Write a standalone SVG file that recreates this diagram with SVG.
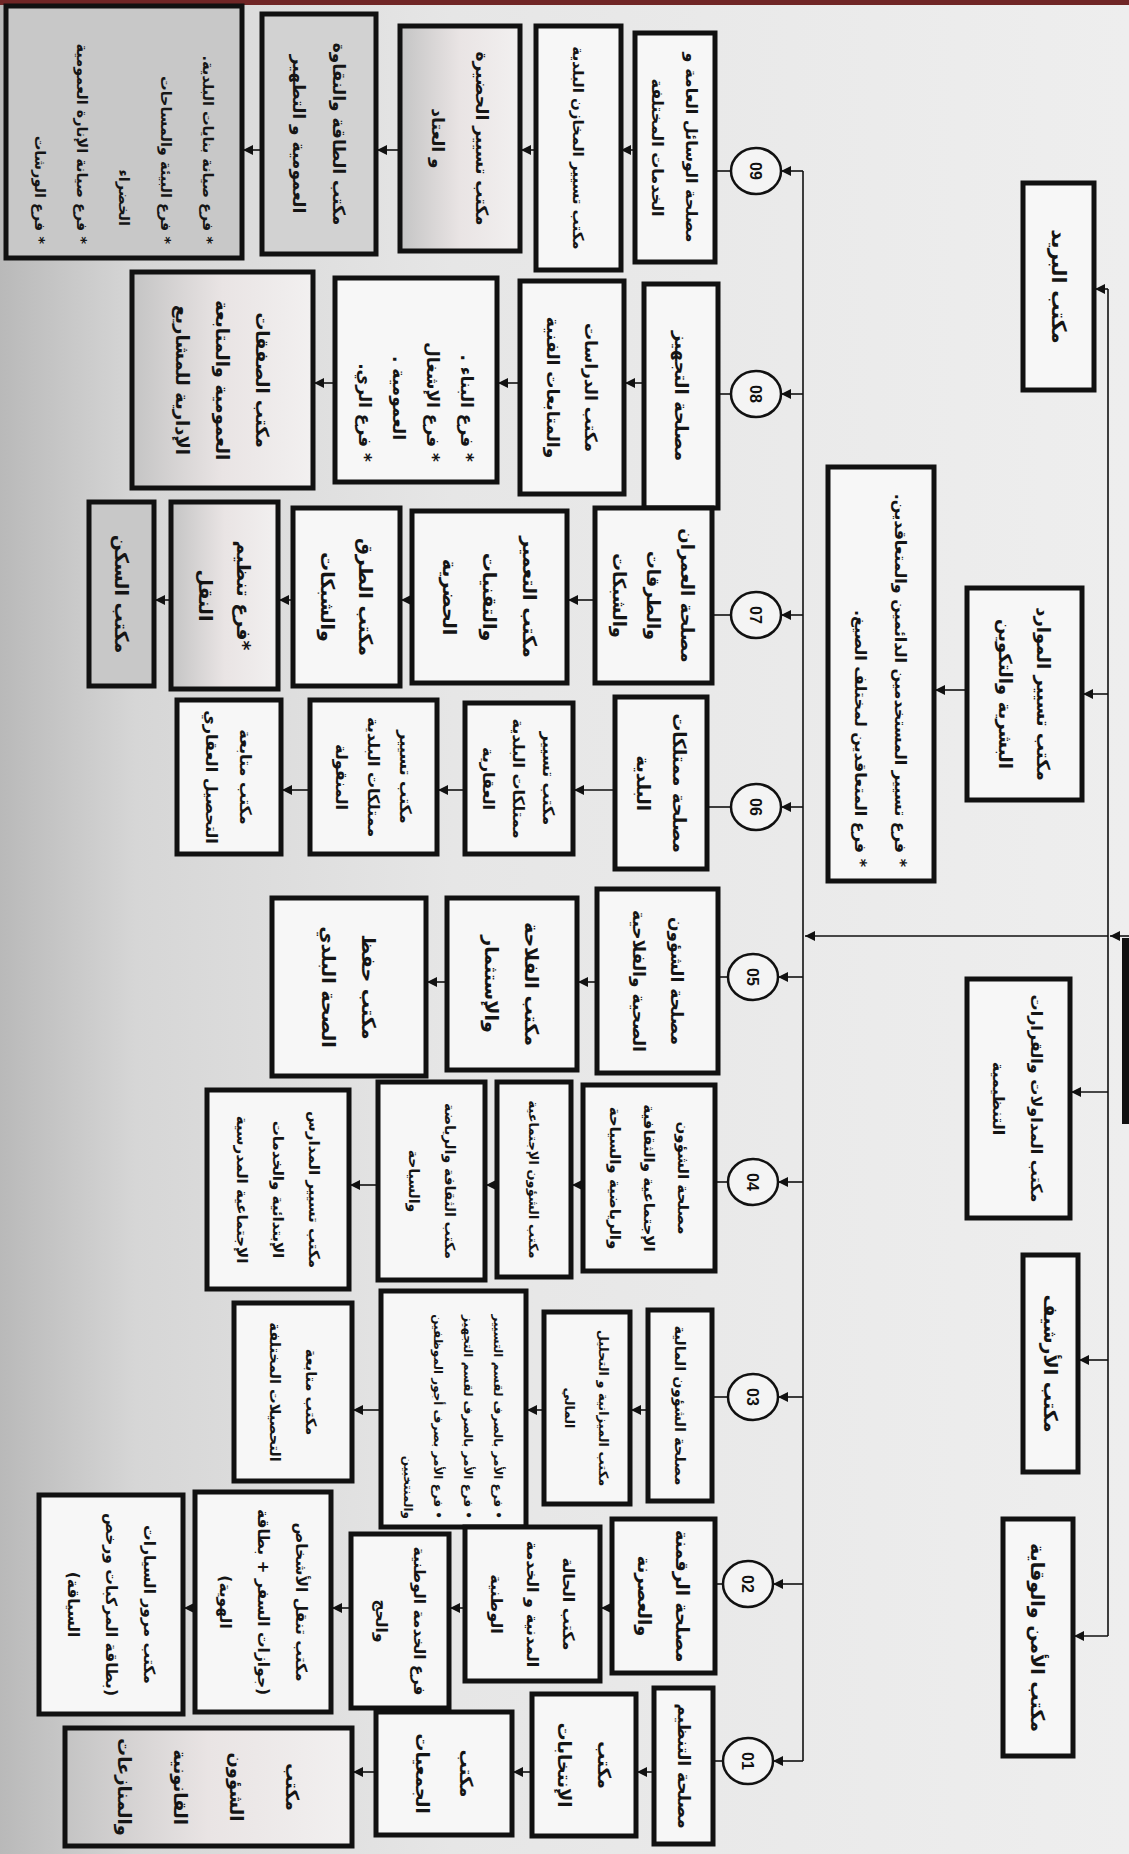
<svg xmlns="http://www.w3.org/2000/svg" width="1129" height="1854" viewBox="0 0 1129 1854">
<defs>
<linearGradient id="bg" x1="0" y1="0" x2="1" y2="0">
<stop offset="0" stop-color="#b9b9b9"/>
<stop offset="0.12" stop-color="#d6d6d6"/>
<stop offset="0.4" stop-color="#e6e6e6"/>
<stop offset="1" stop-color="#eeeeee"/>
</linearGradient>
<linearGradient id="gl" x1="0" y1="0" x2="1" y2="0">
<stop offset="0" stop-color="#c4c4c4"/>
<stop offset="0.5" stop-color="#e9e4e4"/>
<stop offset="1" stop-color="#f2f0f0"/>
</linearGradient>
<marker id="ah" viewBox="0 0 10 10" refX="10" refY="5" markerWidth="10" markerHeight="10" markerUnits="userSpaceOnUse" orient="auto">
<path d="M0,0 L10,5 L0,10 z" fill="#111"/>
</marker>
<style>
.b{fill:#f7f7f7;stroke:#111;stroke-width:5}
.g1{fill:#c8c8c8}
.g2{fill:#d2d2d2}
.g3{fill:url(#gl)}
.t{font-family:"DejaVu Sans",sans-serif;font-weight:bold;fill:#151515;direction:rtl;text-anchor:middle}
.s{text-anchor:start}
.c{fill:#f4f4f4;stroke:#111;stroke-width:2.5}
.n{font-family:"Liberation Sans",sans-serif;font-weight:bold;font-size:16px;fill:#111;text-anchor:middle}
.l{fill:none;stroke:#111;stroke-width:1.6}
.a{fill:none;stroke:#111;stroke-width:1.6;marker-end:url(#ah)}
</style>
</defs>
<rect x="0" y="0" width="1129" height="1854" fill="url(#bg)"/>
<rect x="0" y="0" width="1129" height="5" fill="#702626"/>
<rect x="1122" y="938" width="7" height="186" fill="#111"/>

<g id="connectors">
<line class="l" x1="803" y1="171" x2="803" y2="1761"/>
<line class="a" x1="1129" y1="936" x2="1110" y2="936"/>
<line class="a" x1="1108" y1="936" x2="805" y2="936"/>
<line class="l" x1="1108" y1="289" x2="1108" y2="1636"/>
<line class="a" x1="1108" y1="289" x2="1095" y2="289"/>
<line class="a" x1="1108" y1="694" x2="1083" y2="694"/>
<line class="a" x1="967" y1="690" x2="935" y2="690"/>
<line class="a" x1="1108" y1="1092" x2="1071" y2="1092"/>
<line class="a" x1="1108" y1="1360" x2="1079" y2="1360"/>
<line class="a" x1="1108" y1="1636" x2="1074" y2="1636"/>
<line class="a" x1="803" y1="171" x2="781" y2="171"/>
<line class="a" x1="803" y1="394" x2="781" y2="394"/>
<line class="a" x1="803" y1="615" x2="781" y2="615"/>
<line class="a" x1="803" y1="807" x2="781" y2="807"/>
<line class="a" x1="803" y1="977" x2="778" y2="977"/>
<line class="a" x1="803" y1="1182" x2="778" y2="1182"/>
<line class="a" x1="803" y1="1397" x2="778" y2="1397"/>
<line class="a" x1="803" y1="1584" x2="773" y2="1584"/>
<line class="a" x1="803" y1="1761" x2="773" y2="1761"/>
<line class="l" x1="731" y1="171" x2="715" y2="171"/>
<line class="l" x1="731" y1="394" x2="718" y2="394"/>
<line class="l" x1="731" y1="615" x2="712" y2="615"/>
<line class="l" x1="731" y1="807" x2="707" y2="807"/>
<line class="l" x1="728" y1="977" x2="718" y2="977"/>
<line class="l" x1="728" y1="1182" x2="715" y2="1182"/>
<line class="l" x1="728" y1="1397" x2="712" y2="1397"/>
<line class="l" x1="723" y1="1584" x2="715" y2="1584"/>
<line class="l" x1="723" y1="1761" x2="713" y2="1761"/>
<line class="a" x1="635" y1="150" x2="621" y2="150"/>
<line class="a" x1="536" y1="150" x2="521" y2="150"/>
<line class="a" x1="400" y1="150" x2="377" y2="150"/>
<line class="a" x1="262" y1="150" x2="243" y2="150"/>
<line class="a" x1="644" y1="383" x2="625" y2="383"/>
<line class="a" x1="520" y1="383" x2="498" y2="383"/>
<line class="a" x1="335" y1="383" x2="314" y2="383"/>
<line class="a" x1="595" y1="600" x2="568" y2="600"/>
<line class="a" x1="412" y1="600" x2="401" y2="600"/>
<line class="a" x1="293" y1="600" x2="279" y2="600"/>
<line class="a" x1="171" y1="600" x2="155" y2="600"/>
<line class="a" x1="615" y1="790" x2="574" y2="790"/>
<line class="a" x1="465" y1="790" x2="438" y2="790"/>
<line class="a" x1="310" y1="790" x2="282" y2="790"/>
<line class="a" x1="597" y1="982" x2="578" y2="982"/>
<line class="a" x1="447" y1="982" x2="427" y2="982"/>
<line class="a" x1="583" y1="1185" x2="572" y2="1185"/>
<line class="a" x1="497" y1="1185" x2="486" y2="1185"/>
<line class="a" x1="378" y1="1185" x2="350" y2="1185"/>
<line class="a" x1="648" y1="1410" x2="631" y2="1410"/>
<line class="a" x1="544" y1="1410" x2="527" y2="1410"/>
<line class="a" x1="381" y1="1410" x2="353" y2="1410"/>
<line class="a" x1="612" y1="1608" x2="601" y2="1608"/>
<line class="a" x1="465" y1="1608" x2="450" y2="1608"/>
<line class="a" x1="351" y1="1608" x2="332" y2="1608"/>
<line class="a" x1="195" y1="1608" x2="184" y2="1608"/>
<line class="a" x1="654" y1="1772" x2="637" y2="1772"/>
<line class="a" x1="532" y1="1772" x2="513" y2="1772"/>
<line class="a" x1="376" y1="1772" x2="353" y2="1772"/>
</g>

<g id="circles">
<g id="c09"><ellipse class="c" cx="756" cy="171" rx="25" ry="23"/><text class="n" transform="translate(756,171) rotate(90)" y="6">09</text></g>
<g id="c08"><ellipse class="c" cx="756" cy="394" rx="25" ry="23"/><text class="n" transform="translate(756,394) rotate(90)" y="6">08</text></g>
<g id="c07"><ellipse class="c" cx="756" cy="615" rx="25" ry="23"/><text class="n" transform="translate(756,615) rotate(90)" y="6">07</text></g>
<g id="c06"><ellipse class="c" cx="756" cy="807" rx="25" ry="23"/><text class="n" transform="translate(756,807) rotate(90)" y="6">06</text></g>
<g id="c05"><ellipse class="c" cx="753" cy="977" rx="25" ry="23"/><text class="n" transform="translate(753,977) rotate(90)" y="6">05</text></g>
<g id="c04"><ellipse class="c" cx="753" cy="1182" rx="25" ry="23"/><text class="n" transform="translate(753,1182) rotate(90)" y="6">04</text></g>
<g id="c03"><ellipse class="c" cx="753" cy="1397" rx="25" ry="23"/><text class="n" transform="translate(753,1397) rotate(90)" y="6">03</text></g>
<g id="c02"><ellipse class="c" cx="748" cy="1584" rx="25" ry="23"/><text class="n" transform="translate(748,1584) rotate(90)" y="6">02</text></g>
<g id="c01"><ellipse class="c" cx="748" cy="1761" rx="25" ry="23"/><text class="n" transform="translate(748,1761) rotate(90)" y="6">01</text></g>
</g>

<g id="staff">
<g id="r1"><rect class="b" x="1023" y="183" width="71" height="207"/><text class="t" style="font-size:20px" transform="translate(1058.5,286.5) rotate(90)"><tspan x="0" y="7">مكتب البريد</tspan></text></g>
<g id="r2"><rect class="b" x="967" y="588" width="115" height="212"/><text class="t" style="font-size:18px" transform="translate(1024.5,694) rotate(90)"><tspan x="0" y="-12.7">مكتب تسيير الموارد</tspan><tspan x="0" y="25.3">البشرية والتكوين</tspan></text></g>
<g id="r3"><rect class="b" x="828" y="467" width="106" height="414"/><text class="t s" style="font-size:16px" transform="translate(881,674) rotate(90)"><tspan x="193" y="-14.4">* فرع تسيير المستخدمين الدائمين والمتعاقدين.</tspan><tspan x="193" y="25.6">* فرع المتعاقدين لمختلف الصيغ.</tspan></text></g>
<g id="r4"><rect class="b" x="967" y="979" width="103" height="239"/><text class="t" style="font-size:16px" transform="translate(1018.5,1098.5) rotate(90)"><tspan x="0" y="-12.4">مكتب المداولات والقرارات</tspan><tspan x="0" y="25.6">التنظيمية</tspan></text></g>
<g id="r5"><rect class="b" x="1023" y="1255" width="55" height="217"/><text class="t" style="font-size:19px" transform="translate(1050.5,1363.5) rotate(90)"><tspan x="0" y="6.6">مكتب الأرشيف</tspan></text></g>
<g id="r6"><rect class="b" x="1003" y="1519" width="70" height="237"/><text class="t" style="font-size:19px" transform="translate(1038,1637.5) rotate(90)"><tspan x="0" y="6.6">مكتب الأمن والوقاية</tspan></text></g>
</g>

<g id="col09">
<g id="n09a"><rect class="b" x="635" y="33" width="80" height="229"/><text class="t" style="font-size:16px" transform="translate(675,147.5) rotate(90)"><tspan x="0" y="-11.4">مصلحة الوسائل العامة و</tspan><tspan x="0" y="22.6">الخدمات المختلفة</tspan></text></g>
<g id="n09b"><rect class="b" x="536" y="26" width="85" height="244"/><text class="t" style="font-size:15px" transform="translate(578.5,148) rotate(90)"><tspan x="0" y="5.3">مكتب تسيير المخازن البلدية</tspan></text></g>
<g id="n09c"><rect class="b g3" x="400" y="26" width="120" height="225"/><text class="t" style="font-size:17px" transform="translate(460,138.5) rotate(90)"><tspan x="0" y="-16">مكتب تسيير الحضيرة</tspan><tspan x="0" y="28">و العتاد</tspan></text></g>
<g id="n09d"><rect class="b g2" x="262" y="14" width="114" height="240"/><text class="t" style="font-size:17px" transform="translate(319,134) rotate(90)"><tspan x="0" y="-14">مكتب الطاقة والنقاوة</tspan><tspan x="0" y="26">العمومية و التطهير</tspan></text></g>
<g id="n09e"><rect class="b g1" x="6" y="6" width="236" height="252"/><text class="t s" style="font-size:14.5px" transform="translate(124,132) rotate(90)"><tspan x="112" y="-79">* فرع صيانة بنايات البلدية.</tspan><tspan x="112" y="-37">* فرع البيئة والمساحات</tspan><tspan x="94" y="5">الخضراء</tspan><tspan x="112" y="47">* فرع صيانة الإنارة العمومية</tspan><tspan x="112" y="89">* فرع الورشات</tspan></text></g>
</g>

<g id="col08">
<g id="n08a"><rect class="b" x="644" y="284" width="74" height="224"/><text class="t" style="font-size:18px" transform="translate(681,396) rotate(90)"><tspan x="0" y="6.3">مصلحة التجهيز</tspan></text></g>
<g id="n08b"><rect class="b" x="520" y="281" width="104" height="213"/><text class="t" style="font-size:17px" transform="translate(572,387.5) rotate(90)"><tspan x="0" y="-13">مكتب الدراسات</tspan><tspan x="0" y="25">والمتابعات الفنية</tspan></text></g>
<g id="n08c"><rect class="b" x="335" y="278" width="162" height="204"/><text class="t s" style="font-size:17px" transform="translate(416,380) rotate(90)"><tspan x="82" y="-45">* فرع البناء .</tspan><tspan x="82" y="-11">* فرع الإشغال</tspan><tspan x="60" y="23">العمومية .</tspan><tspan x="82" y="57">* فرع الري.</tspan></text></g>
<g id="n08d"><rect class="b g3" x="132" y="272" width="181" height="216"/><text class="t" style="font-size:18px" transform="translate(222.5,380) rotate(90)"><tspan x="0" y="-33.7">مكتب الصفقات</tspan><tspan x="0" y="6.3">العمومية والمتابعة</tspan><tspan x="0" y="46.3">الإدارية للمشاريع</tspan></text></g>
</g>

<g id="col07">
<g id="n07a"><rect class="b" x="595" y="508" width="117" height="175"/><text class="t" style="font-size:18px" transform="translate(653.5,595.5) rotate(90)"><tspan x="0" y="-27.7">مصلحة العمران</tspan><tspan x="0" y="6.3">والطرقات</tspan><tspan x="0" y="40.3">والشبكات</tspan></text></g>
<g id="n07b"><rect class="b" x="412" y="511" width="155" height="172"/><text class="t" style="font-size:19px" transform="translate(489.5,597) rotate(90)"><tspan x="0" y="-33.4">مكتب التعمير</tspan><tspan x="0" y="6.6">والتقنيات</tspan><tspan x="0" y="46.6">الحضرية</tspan></text></g>
<g id="n07c"><rect class="b" x="293" y="508" width="107" height="178"/><text class="t" style="font-size:19px" transform="translate(346.5,597) rotate(90)"><tspan x="0" y="-12.4">مكتب الطرق</tspan><tspan x="0" y="25.6">والشبكات</tspan></text></g>
<g id="n07d"><rect class="b g3" x="171" y="502" width="107" height="187"/><text class="t" style="font-size:19px" transform="translate(224.5,595.5) rotate(90)"><tspan x="0" y="-12.4">*فرع تنظيم</tspan><tspan x="0" y="25.6">النقل</tspan></text></g>
<g id="n07e"><rect class="b g1" x="89" y="502" width="65" height="184"/><text class="t" style="font-size:19px" transform="translate(121.5,594) rotate(90)"><tspan x="0" y="6.6">مكتب السكن</tspan></text></g>
</g>

<g id="col06">
<g id="n06a"><rect class="b" x="615" y="697" width="92" height="172"/><text class="t" style="font-size:18px" transform="translate(661,783) rotate(90)"><tspan x="0" y="-11.7">مصلحة ممتلكات</tspan><tspan x="0" y="24.3">البلدية</tspan></text></g>
<g id="n06b"><rect class="b" x="465" y="703" width="108" height="151"/><text class="t" style="font-size:16px" transform="translate(519,778.5) rotate(90)"><tspan x="0" y="-24.4">مكتب تسيير</tspan><tspan x="0" y="5.6">ممتلكات البلدية</tspan><tspan x="0" y="35.6">العقارية</tspan></text></g>
<g id="n06c"><rect class="b" x="310" y="700" width="127" height="154"/><text class="t" style="font-size:16px" transform="translate(373.5,777) rotate(90)"><tspan x="0" y="-26.4">مكتب تسيير</tspan><tspan x="0" y="5.6">ممتلكات البلدية</tspan><tspan x="0" y="37.6">المنقولة</tspan></text></g>
<g id="n06d"><rect class="b" x="177" y="700" width="104" height="154"/><text class="t" style="font-size:16px" transform="translate(229,777) rotate(90)"><tspan x="0" y="-11.4">مكتب متابعة</tspan><tspan x="0" y="22.6">التحصيل العقاري</tspan></text></g>
</g>

<g id="col05">
<g id="n05a"><rect class="b" x="597" y="889" width="121" height="184"/><text class="t" style="font-size:17px" transform="translate(657.5,981) rotate(90)"><tspan x="0" y="-13">مصلحة الشؤون</tspan><tspan x="0" y="25">الصحية والفلاحية</tspan></text></g>
<g id="n05b"><rect class="b" x="447" y="898" width="130" height="172"/><text class="t" style="font-size:19px" transform="translate(512,984) rotate(90)"><tspan x="0" y="-13.4">مكتب الفلاحة</tspan><tspan x="0" y="26.6">والإستثمار</tspan></text></g>
<g id="n05c"><rect class="b" x="272" y="898" width="154" height="178"/><text class="t" style="font-size:19px" transform="translate(349,987) rotate(90)"><tspan x="0" y="-13.4">مكتب حفظ</tspan><tspan x="0" y="26.6">الصحة البلدي</tspan></text></g>
</g>

<g id="col04">
<g id="n04a"><rect class="b" x="583" y="1085" width="132" height="186"/><text class="t" style="font-size:15px" transform="translate(649,1178) rotate(90)"><tspan x="0" y="-28.8">مصلحة الشؤون</tspan><tspan x="0" y="5.2">الإجتماعية والثقافية</tspan><tspan x="0" y="39.2">والرياضية والسياحة</tspan></text></g>
<g id="n04b"><rect class="b" x="497" y="1082" width="74" height="195"/><text class="t" style="font-size:13px" transform="translate(534,1179.5) rotate(90)"><tspan x="0" y="4.6">مكتب الشؤون الإجتماعية</tspan></text></g>
<g id="n04c"><rect class="b" x="378" y="1082" width="107" height="198"/><text class="t" style="font-size:14px" transform="translate(431.5,1181) rotate(90)"><tspan x="0" y="-13">مكتب الثقافة والرياضة</tspan><tspan x="0" y="23">والسياحة</tspan></text></g>
<g id="n04d"><rect class="b" x="207" y="1090" width="142" height="199"/><text class="t" style="font-size:15px" transform="translate(278,1189.5) rotate(90)"><tspan x="0" y="-30.8">مكتب تسيير المدارس</tspan><tspan x="0" y="5.2">الإبتدائية والخدمات</tspan><tspan x="0" y="41.2">الإجتماعية المدرسية</tspan></text></g>
</g>

<g id="col03">
<g id="n03a"><rect class="b" x="648" y="1310" width="64" height="191"/><text class="t" style="font-size:14.5px" transform="translate(680,1405.5) rotate(90)"><tspan x="0" y="5">مصلحة الشؤون المالية</tspan></text></g>
<g id="n03b"><rect class="b" x="544" y="1312" width="86" height="192"/><text class="t" style="font-size:13px" transform="translate(587,1408) rotate(90)"><tspan x="0" y="-12.4">مكتب الميزانية و التحليل</tspan><tspan x="0" y="21.6">المالي</tspan></text></g>
<g id="n03c"><rect class="b" x="381" y="1291" width="145" height="236"/><text class="t s" style="font-size:12px" transform="translate(453.5,1409) rotate(90)"><tspan x="110" y="-40.8">• فرع الأمر بالصرف لقسم التسيير</tspan><tspan x="110" y="-10.8">• فرع الأمر بالصرف لقسم التجهيز</tspan><tspan x="110" y="19.2">• فرع الأمر بصرف أجور الموظفين</tspan><tspan x="110" y="49.2">والمنتخبين</tspan></text></g>
<g id="n03d"><rect class="b" x="234" y="1303" width="118" height="178"/><text class="t" style="font-size:14.5px" transform="translate(293,1392) rotate(90)"><tspan x="0" y="-13">مكتب متابعة</tspan><tspan x="0" y="23">التحصيلات المختلفة</tspan></text></g>
</g>

<g id="col02">
<g id="n02a"><rect class="b" x="612" y="1519" width="103" height="154"/><text class="t" style="font-size:18px" transform="translate(663.5,1596) rotate(90)"><tspan x="0" y="-12.7">مصلحة الرقمنة</tspan><tspan x="0" y="25.3">والعصرنة</tspan></text></g>
<g id="n02b"><rect class="b" x="465" y="1527" width="135" height="154"/><text class="t" style="font-size:16px" transform="translate(532.5,1604) rotate(90)"><tspan x="0" y="-30.4">مكتب الحالة</tspan><tspan x="0" y="5.6">المدنية و الخدمة</tspan><tspan x="0" y="41.6">الوطنية</tspan></text></g>
<g id="n02c"><rect class="b" x="351" y="1534" width="98" height="174"/><text class="t" style="font-size:15.5px" transform="translate(400,1621) rotate(90)"><tspan x="0" y="-13.6">فرع الخدمة الوطنية</tspan><tspan x="0" y="24.4">والحج</tspan></text></g>
<g id="n02d"><rect class="b" x="195" y="1492" width="136" height="220"/><text class="t" style="font-size:15.5px" transform="translate(263,1602) rotate(90)"><tspan x="0" y="-32.6">مكتب تنقل الأشخاص</tspan><tspan x="0" y="5.4">(جوازات السفر + بطاقة</tspan><tspan x="0" y="43.4">الهوية)</tspan></text></g>
<g id="n02e"><rect class="b" x="39" y="1495" width="144" height="219"/><text class="t" style="font-size:15.5px" transform="translate(111,1604.5) rotate(90)"><tspan x="0" y="-32.6">مكتب مرور السيارات</tspan><tspan x="0" y="5.4">(بطاقة المركبات ورخص</tspan><tspan x="0" y="43.4">السياقة)</tspan></text></g>
</g>

<g id="col01">
<g id="n01a"><rect class="b" x="654" y="1688" width="59" height="156"/><text class="t" style="font-size:17px" transform="translate(683.5,1766) rotate(90)"><tspan x="0" y="6">مصلحة التنظيم</tspan></text></g>
<g id="n01b"><rect class="b" x="532" y="1694" width="104" height="142"/><text class="t" style="font-size:18px" transform="translate(584,1765) rotate(90)"><tspan x="0" y="-13.7">مكتب</tspan><tspan x="0" y="26.3">الإنتخابات</tspan></text></g>
<g id="n01c"><rect class="b" x="376" y="1712" width="136" height="123"/><text class="t" style="font-size:18px" transform="translate(444,1773.5) rotate(90)"><tspan x="0" y="-15.7">مكتب</tspan><tspan x="0" y="28.3">الجمعيات</tspan></text></g>
<g id="n01d"><rect class="b g3" x="65" y="1728" width="287" height="118"/><text class="t" style="font-size:18px" transform="translate(208.5,1787) rotate(90)"><tspan x="0" y="-77.7">مكتب</tspan><tspan x="0" y="-21.7">الشؤون</tspan><tspan x="0" y="34.3">القانونية</tspan><tspan x="0" y="90.3">والمنازعات</tspan></text></g>
</g>
</svg>
